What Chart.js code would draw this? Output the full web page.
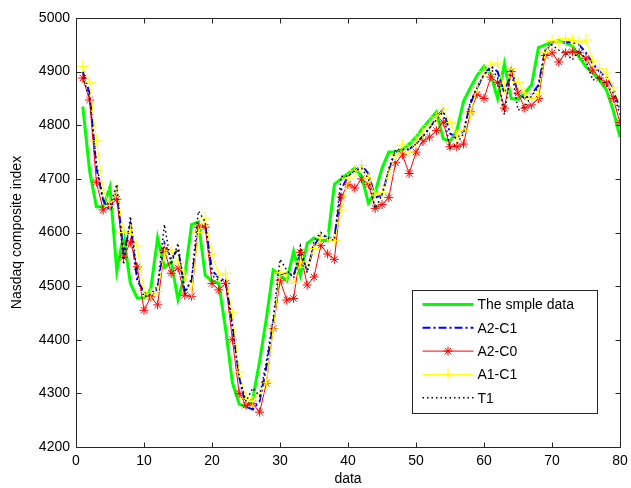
<!DOCTYPE html>
<html>
<head>
<meta charset="utf-8">
<script src="https://cdn.jsdelivr.net/npm/chart.js@4.4.0/dist/chart.umd.min.js"></script>
<style>
html, body { margin: 0; padding: 0; background: #fff; }
#chartContainer { width: 631px; height: 488px; }
</style>
</head>
<body>
<div id="chartContainer"><canvas id="myChart" width="631" height="488"></canvas></div>
<script>
// x positions (data index)
var xValues = [1,2,3,4,5,6,7,8,9,10,11,12,13,14,15,16,17,18,19,20,
  21,22,23,24,25,26,27,28,29,30,31,32,33,34,35,36,37,38,39,40,
  41,42,43,44,45,46,47,48,49,50,51,52,53,54,55,56,57,58,59,60,
  61,62,63,64,65,66,67,68,69,70,71,72,73,74,75,76,77,78,79,80];

var sampleData = [4835,4715,4648,4648,4685,4528,4595,4505,4478,4478,
  4495,4590,4535,4545,4475,4520,4615,4620,4520,4510,
  4505,4420,4320,4280,4275,4290,4360,4440,4530,4520,
  4510,4565,4520,4580,4590,4585,4585,4690,4700,4710,
  4720,4705,4655,4675,4720,4750,4750,4755,4765,4778,
  4795,4810,4825,4775,4770,4790,4845,4870,4893,4910,
  4895,4850,4915,4850,4848,4860,4875,4945,4950,4955,
  4958,4953,4948,4927,4909,4897,4884,4866,4828,4778];

var a2c1 = [4900,4860,4720,4660,4640,4680,4560,4615,4510,4490,
  4480,4495,4580,4550,4570,4490,4510,4610,4615,4530,
  4515,4510,4430,4330,4275,4270,4285,4350,4430,4520,
  4525,4520,4560,4530,4575,4595,4590,4590,4680,4705,
  4715,4725,4710,4665,4670,4715,4750,4755,4755,4765,
  4780,4795,4815,4830,4785,4775,4790,4840,4870,4895,
  4910,4900,4860,4905,4860,4850,4858,4875,4940,4955,
  4955,4955,4955,4950,4935,4915,4900,4890,4870,4830];

var a2c0 = [4888,4847,4694,4642,4651,4662,4554,4582,4536,4455,
  4480,4465,4567,4524,4534,4483,4481,4610,4610,4505,
  4493,4505,4400,4300,4278,4281,4265,4319,4421,4511,
  4474,4477,4563,4502,4517,4576,4560,4550,4666,4690,
  4683,4700,4690,4645,4652,4665,4730,4745,4710,4750,
  4770,4778,4790,4806,4760,4760,4765,4825,4858,4850,
  4890,4880,4832,4900,4860,4832,4838,4850,4930,4935,
  4918,4935,4937,4935,4925,4903,4888,4879,4850,4805];

var a1c1 = [4910,4880,4772,4680,4650,4680,4600,4605,4575,4490,
  4485,4490,4560,4567,4545,4520,4490,4600,4627,4560,
  4520,4524,4450,4340,4290,4285,4300,4320,4420,4525,
  4520,4505,4545,4535,4570,4590,4590,4585,4640,4700,
  4715,4725,4700,4670,4675,4710,4745,4763,4750,4770,
  4785,4800,4815,4830,4805,4780,4790,4823,4870,4900,
  4912,4916,4870,4905,4880,4860,4850,4860,4935,4958,
  4955,4962,4958,4955,4959,4920,4905,4897,4870,4840];

var t1 = [4890,4850,4730,4660,4650,4690,4540,4630,4520,4480,
  4485,4500,4615,4540,4580,4485,4515,4640,4620,4520,
  4510,4510,4420,4330,4285,4310,4295,4360,4440,4550,
  4530,4515,4575,4525,4585,4600,4590,4585,4705,4705,
  4715,4720,4700,4645,4670,4720,4755,4755,4755,4765,
  4778,4795,4810,4825,4757,4765,4785,4845,4870,4895,
  4905,4890,4820,4905,4828,4835,4855,4870,4940,4950,
  4940,4935,4922,4940,4920,4884,4890,4875,4860,4820];

var xTicks = [0,10,20,30,40,50,60,70,80];
var yTicks = [4200,4300,4400,4500,4600,4700,4800,4900,5000];

function points(values) {
  var out = [];
  for (var i = 0; i < xValues.length; i++) out.push({x: xValues[i], y: values[i]});
  return out;
}

var fontFamily = "'Liberation Sans', Arial, sans-serif";

// box round the plot with inward ticks, like matlab
var boxTicks = {
  id: 'boxTicks',
  afterDatasetsDraw: function(chart) {
    var ctx = chart.ctx, a = chart.chartArea;
    var xs = chart.scales.x, ys = chart.scales.y;
    var L = Math.round(a.left) + 0.5, R = Math.round(a.right) + 0.5;
    var T = Math.round(a.top) + 0.5, B = Math.round(a.bottom) + 0.5;
    ctx.save();
    ctx.strokeStyle = '#262626';
    ctx.lineWidth = 1;
    ctx.beginPath();
    ctx.rect(L, T, R - L, B - T);
    xTicks.forEach(function(v) {
      var px = Math.round(xs.getPixelForValue(v)) + 0.5;
      ctx.moveTo(px, B); ctx.lineTo(px, B - 5);
      ctx.moveTo(px, T); ctx.lineTo(px, T + 5);
    });
    yTicks.forEach(function(v) {
      var py = Math.round(ys.getPixelForValue(v)) + 0.5;
      ctx.moveTo(L, py); ctx.lineTo(L + 5, py);
      ctx.moveTo(R, py); ctx.lineTo(R - 5, py);
    });
    ctx.stroke();
    ctx.restore();
  }
};

// legend box inside the plot, bottom right
var boxLegend = {
  id: 'boxLegend',
  afterDraw: function(chart) {
    var ctx = chart.ctx, a = chart.chartArea;
    var w = 185, h = 123;
    var x0 = Math.round(a.right) - 23 - w + 0.5;
    var y0 = Math.round(a.bottom) - 34 - h + 0.5;
    ctx.save();
    ctx.fillStyle = '#fff';
    ctx.fillRect(x0, y0, w, h);
    ctx.strokeStyle = '#262626';
    ctx.lineWidth = 1;
    ctx.strokeRect(x0, y0, w, h);
    chart.data.datasets.forEach(function(ds, i) {
      var y = y0 + 14 + i * 23.3;
      ctx.save();
      ctx.strokeStyle = ds.borderColor;
      ctx.lineWidth = ds.borderWidth;
      ctx.setLineDash(ds.borderDash || []);
      ctx.beginPath();
      ctx.moveTo(x0 + 10, y);
      ctx.lineTo(x0 + 61, y);
      ctx.stroke();
      ctx.restore();
      if (ds.pointRadius > 0) {
        ctx.save();
        ctx.strokeStyle = ds.pointBorderColor;
        ctx.fillStyle = ds.pointBorderColor;
        ctx.lineWidth = 1;
        Chart.helpers.drawPoint(ctx, {pointStyle: ds.pointStyle, radius: ds.pointRadius, rotation: 0, borderWidth: 1}, x0 + 35.5, y);
        ctx.restore();
      }
      ctx.fillStyle = '#000';
      ctx.font = '14px ' + fontFamily;
      ctx.textBaseline = 'middle';
      ctx.fillText(ds.label, x0 + 65, y + 1);
    });
    ctx.restore();
  }
};

var ctx = document.getElementById('myChart').getContext('2d');
var chart = new Chart(ctx, {
  type: 'line',
  data: {
    datasets: [{
      label: 'The smple data',
      data: points(sampleData),
      borderColor: '#00ff00',
      borderWidth: 3,
      pointRadius: 0,
      order: 5
    }, {
      label: 'A2-C1',
      data: points(a2c1),
      borderColor: '#0000ff',
      borderWidth: 2,
      borderDash: [8, 3, 2, 3],
      pointRadius: 0,
      order: 4
    }, {
      label: 'A2-C0',
      data: points(a2c0),
      borderColor: '#ff0000',
      borderWidth: 1,
      pointStyle: 'star',
      pointRadius: 4.5,
      pointBorderColor: '#ff0000',
      pointBorderWidth: 1,
      order: 3
    }, {
      label: 'A1-C1',
      data: points(a1c1),
      borderColor: '#ffff00',
      borderWidth: 1,
      pointStyle: 'cross',
      pointRadius: 6,
      pointBorderColor: '#ffff00',
      pointBorderWidth: 1,
      order: 2
    }, {
      label: 'T1',
      data: points(t1),
      borderColor: '#000000',
      borderWidth: 1.5,
      borderDash: [1.5, 3],
      pointRadius: 0,
      order: 1
    }]
  },
  options: {
    responsive: false,
    animation: false,
    devicePixelRatio: 1,
    layout: { padding: { left: 0, top: 18, right: 11, bottom: 0 } },
    plugins: {
      legend: { display: false },
      tooltip: { enabled: false }
    },
    elements: { line: { tension: 0, fill: false } },
    scales: {
      x: {
        type: 'linear',
        min: 0,
        max: 80,
        afterFit: function(scale) {
          scale.height = 41;
          scale.paddingLeft = 0;
          scale.paddingRight = 0;
        },
        afterBuildTicks: function(scale) {
          scale.ticks = xTicks.map(function(v) { return {value: v}; });
        },
        grid: { display: false, drawTicks: false },
        border: { display: false },
        ticks: { color: '#000', padding: 6, maxRotation: 0, font: { family: fontFamily, size: 14 },
          callback: function(v) { return String(v); } },
        title: { display: true, text: 'data', color: '#000', padding: { top: 0, bottom: 0 }, font: { family: fontFamily, size: 14 } }
      },
      y: {
        type: 'linear',
        min: 4200,
        max: 5000,
        afterFit: function(scale) { scale.width = 76; },
        afterBuildTicks: function(scale) {
          scale.ticks = yTicks.map(function(v) { return {value: v}; });
        },
        grid: { display: false, drawTicks: false },
        border: { display: false },
        ticks: { color: '#000', padding: 6, font: { family: fontFamily, size: 14 },
          callback: function(v) { return String(v); } },
        title: { display: true, text: 'Nasdaq composite index', color: '#000', padding: { top: 9, bottom: 0 }, font: { family: fontFamily, size: 14 } }
      }
    }
  },
  plugins: [boxTicks, boxLegend]
});
</script>
</body>
</html>
